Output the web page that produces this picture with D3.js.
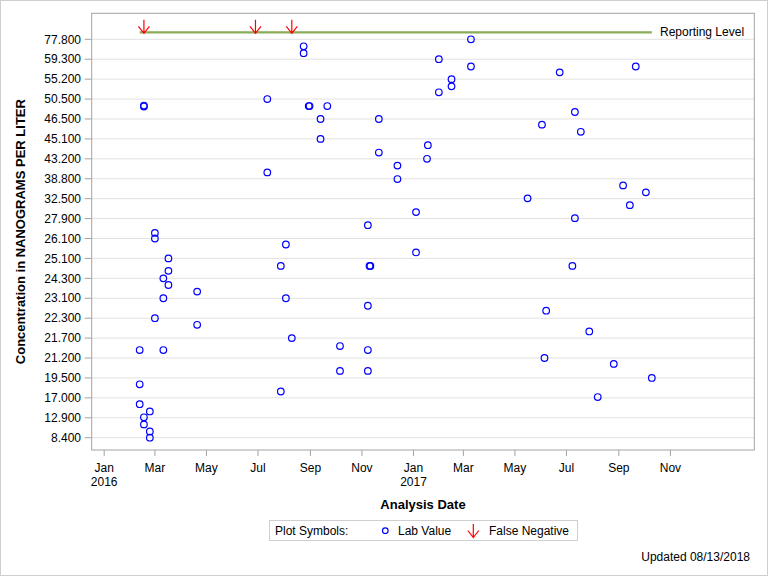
<!DOCTYPE html>
<html>
<head>
<meta charset="utf-8">
<script src="https://cdn.jsdelivr.net/npm/d3@7"></script>
<style>
  html, body { margin: 0; padding: 0; background: #fff; }
  svg { display: block; font-family: "Liberation Sans", Arial, sans-serif; }
</style>
</head>
<body>
<svg id="chart" width="768" height="576"></svg>
<script>
// ---------- DATA ----------
const yTickValues = [8.4, 12.9, 17.0, 19.5, 21.2, 21.7, 22.3, 23.1, 24.3, 25.1, 26.1, 27.9, 32.5, 38.8, 43.2, 45.1, 46.5, 50.5, 55.2, 59.3, 77.8];

const sampleDates = [
  "2016-02-17","2016-02-17","2016-03-01","2016-03-01","2016-03-17","2016-03-17","2016-03-11","2016-03-17",
  "2016-04-20","2016-03-11","2016-03-01","2016-04-20","2016-02-12","2016-03-11","2016-02-12","2016-02-12",
  "2016-02-24","2016-02-17","2016-02-17","2016-02-24","2016-02-24",
  "2016-08-24","2016-08-24","2016-07-12","2016-08-30","2016-08-31","2016-09-21","2016-09-13","2016-11-21",
  "2016-09-13","2017-01-18","2016-11-21","2017-01-17","2016-12-13","2016-07-12","2016-12-13","2017-01-04",
  "2016-11-08","2016-08-03","2017-01-04","2016-07-28","2016-11-10","2016-11-11","2016-08-03","2016-11-08",
  "2016-08-10","2016-10-06","2016-11-08","2016-10-06","2016-11-08","2016-07-28",
  "2017-03-10","2017-01-31","2017-03-10","2017-02-15","2017-02-15","2017-01-31",
  "2017-09-21","2017-06-23","2017-07-11","2017-06-02","2017-07-18","2017-09-06","2017-10-03","2017-05-16",
  "2017-09-14","2017-07-11","2017-07-08","2017-06-07","2017-07-28","2017-06-05","2017-08-26","2017-10-10",
  "2017-08-07"
];
const labValues = [
  49.0, 49.2, 26.6, 26.1, 25.1, 24.6, 24.3, 23.9,
  23.5, 23.1, 22.3, 22.1, 21.4, 21.4, 18.7, 15.7,
  14.2, 13.0, 11.4, 9.8, 8.4,
  71.3, 64.9, 50.5, 49.1, 49.1, 49.1, 46.5, 46.5,
  45.1, 44.5, 43.8, 43.2, 41.7, 40.2, 38.7, 29.4,
  27.3, 25.8, 25.4, 24.8, 24.8, 24.8, 23.1, 22.8,
  21.7, 21.5, 21.4, 20.1, 20.1, 17.8,
  77.8, 59.3, 57.8, 55.2, 53.5, 52.1,
  57.8, 56.6, 47.9, 46.1, 45.6, 36.7, 34.5, 32.6,
  31.0, 28.0, 24.8, 22.6, 21.9, 21.2, 20.7, 19.5,
  17.1
];
const falseNegativeDates = ["2016-02-17", "2016-06-28", "2016-08-10"];
const reportingLevel = 84.3;
const monthNames = ["Jan","Feb","Mar","Apr","May","Jun","Jul","Aug","Sep","Oct","Nov","Dec"];

// ---------- LAYOUT ----------
const W = 768, H = 576;
const frame = { left: 91.7, right: 754.3, top: 13.3, bottom: 450 };
const parse = d3.utcParse("%Y-%m-%d");

const svg = d3.select("#chart");

// outer border
svg.append("rect").attr("x", 0.5).attr("y", 0.5).attr("width", W - 1).attr("height", H - 1)
  .attr("fill", "#fff").attr("stroke", "#cfcfcf");

// scales
const x = d3.scaleUtc()
  .domain([new Date(Date.UTC(2016, 0, 1)), new Date(Date.UTC(2017, 10, 1))])
  .range([104.2, 670.4]);

const yTop = 39.3, yBottom = 437.7;
const y = d3.scaleLinear()
  .domain(yTickValues)
  .range(yTickValues.map((d, i) => yBottom - i * (yBottom - yTop) / (yTickValues.length - 1)));

// gridlines
svg.append("g").selectAll("line").data(yTickValues).join("line")
  .attr("x1", frame.left).attr("x2", frame.right)
  .attr("y1", d => y(d)).attr("y2", d => y(d))
  .attr("stroke", "#e2e2e2").attr("stroke-width", 1);

// frame
svg.append("rect")
  .attr("x", frame.left).attr("y", frame.top)
  .attr("width", frame.right - frame.left).attr("height", frame.bottom - frame.top)
  .attr("fill", "none").attr("stroke", "#a3a3a3").attr("stroke-width", 1);

// y axis ticks & labels
const yAxis = svg.append("g");
yAxis.selectAll("line").data(yTickValues).join("line")
  .attr("x1", frame.left - 7).attr("x2", frame.left)
  .attr("y1", d => y(d)).attr("y2", d => y(d))
  .attr("stroke", "#a3a3a3");
yAxis.selectAll("text").data(yTickValues).join("text")
  .attr("x", 81).attr("y", d => y(d)).attr("dy", "0.35em")
  .attr("text-anchor", "end").attr("font-size", 12).attr("fill", "#000")
  .text(d => d3.format(".3f")(d));

// x axis ticks & labels
const xTicks = d3.utcMonth.every(2).range(new Date(Date.UTC(2016, 0, 1)), new Date(Date.UTC(2017, 10, 2)));
const xAxis = svg.append("g");
xAxis.selectAll("line").data(xTicks).join("line")
  .attr("x1", d => x(d)).attr("x2", d => x(d))
  .attr("y1", frame.bottom).attr("y2", frame.bottom + 6)
  .attr("stroke", "#a3a3a3");
xAxis.selectAll("text.m").data(xTicks).join("text").attr("class", "m")
  .attr("x", d => x(d)).attr("y", 471.5)
  .attr("text-anchor", "middle").attr("font-size", 12)
  .text(d => monthNames[d.getUTCMonth()]);
xAxis.selectAll("text.yr").data(xTicks.filter(d => d.getUTCMonth() === 0)).join("text").attr("class", "yr")
  .attr("x", d => x(d)).attr("y", 486)
  .attr("text-anchor", "middle").attr("font-size", 12)
  .text(d => d.getUTCFullYear());

// axis titles
svg.append("text")
  .attr("x", (frame.left + frame.right) / 2).attr("y", 508.5)
  .attr("text-anchor", "middle").attr("font-size", 13).attr("font-weight", "bold")
  .text("Analysis Date");
svg.append("text")
  .attr("transform", `translate(25,${(frame.top + frame.bottom) / 2}) rotate(-90)`)
  .attr("text-anchor", "middle").attr("font-size", 13).attr("font-weight", "bold")
  .text("Concentration in NANOGRAMS PER LITER");

// reporting level line
const allDates = sampleDates.map(parse);
const dMin = d3.min(allDates), dMax = d3.max(allDates);
const ry = y(reportingLevel);
svg.append("line")
  .attr("x1", x(dMin)).attr("x2", x(dMax))
  .attr("y1", ry).attr("y2", ry)
  .attr("stroke", "#8aab57").attr("stroke-width", 2.2);
svg.append("text")
  .attr("x", 660).attr("y", ry + 4).attr("font-size", 12)
  .text("Reporting Level");

// false negative arrows
function arrowPath(cx, tipY) {
  return `M${cx},${tipY - 13.5}L${cx},${tipY}M${cx - 5.5},${tipY - 7}L${cx},${tipY}L${cx + 5.5},${tipY - 7}`;
}
svg.append("g").selectAll("path").data(falseNegativeDates.map(parse)).join("path")
  .attr("d", d => arrowPath(x(d), ry + 1))
  .attr("fill", "none").attr("stroke", "#ff0000").attr("stroke-width", 1.2);

// lab value points
svg.append("g").selectAll("circle").data(labValues.map((v, i) => ({ d: allDates[i], v }))).join("circle")
  .attr("cx", p => x(p.d)).attr("cy", p => y(p.v)).attr("r", 3.3)
  .attr("fill", "none").attr("stroke", "#0000ff").attr("stroke-width", 1.2);

// legend
const lg = svg.append("g");
lg.append("rect").attr("x", 269.5).attr("y", 520.5).attr("width", 308).attr("height", 20)
  .attr("fill", "#fff").attr("stroke", "#cfcfcf");
lg.append("text").attr("x", 275).attr("y", 535).attr("font-size", 12).text("Plot Symbols:");
lg.append("circle").attr("cx", 385.3).attr("cy", 530.7).attr("r", 2.8)
  .attr("fill", "none").attr("stroke", "#0000ff").attr("stroke-width", 1.2);
lg.append("text").attr("x", 398).attr("y", 535).attr("font-size", 12).text("Lab Value");
lg.append("path").attr("d", arrowPath(473.3, 537.5))
  .attr("fill", "none").attr("stroke", "#ff0000").attr("stroke-width", 1.2);
lg.append("text").attr("x", 489).attr("y", 535).attr("font-size", 12).text("False Negative");

// footnote
svg.append("text").attr("x", 750).attr("y", 561).attr("text-anchor", "end").attr("font-size", 12)
  .text("Updated 08/13/2018");
</script>
</body>
</html>
